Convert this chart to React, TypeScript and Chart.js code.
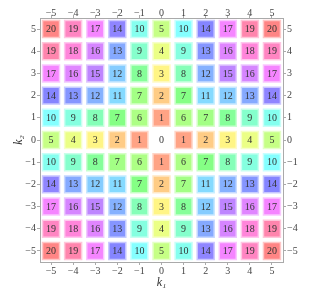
import React, { useEffect, useRef } from "react";
import { Chart, registerables } from "chart.js";

Chart.register(...registerables);

const K1 = [-5, -4, -3, -2, -1, 0, 1, 2, 3, 4, 5];
const K2 = [5, 4, 3, 2, 1, 0, -1, -2, -3, -4, -5];
const TICKS = [-5, -4, -3, -2, -1, 0, 1, 2, 3, 4, 5];
const TICK_LABELS = ["\u22125", "\u22124", "\u22123", "\u22122", "\u22121", "0", "1", "2", "3", "4", "5"];

// values, rows k2 = 5 .. -5, columns k1 = -5 .. 5
const VALUES: number[][] = [
  [20, 19, 17, 14, 10, 5, 10, 14, 17, 19, 20],
  [19, 18, 16, 13, 9, 4, 9, 13, 16, 18, 19],
  [17, 16, 15, 12, 8, 3, 8, 12, 15, 16, 17],
  [14, 13, 12, 11, 7, 2, 7, 11, 12, 13, 14],
  [10, 9, 8, 7, 6, 1, 6, 7, 8, 9, 10],
  [5, 4, 3, 2, 1, 0, 1, 2, 3, 4, 5],
  [10, 9, 8, 7, 6, 1, 6, 7, 8, 9, 10],
  [14, 13, 12, 11, 7, 2, 7, 11, 12, 13, 14],
  [17, 16, 15, 12, 8, 3, 8, 12, 15, 16, 17],
  [19, 18, 16, 13, 9, 4, 9, 13, 16, 18, 19],
  [20, 19, 17, 14, 10, 5, 10, 14, 17, 19, 20],
];

// hue table for quadrant k1 = 1..5 (columns), k2 = 0..5 (rows); other cells by 90° rotation
const QUAD_HUES: number[][] = [
  [15, 35, 55, 70, 88],
  [100, 105, 130, 155, 172],
  [120, 198, 205, 222, 245],
  [145, 218, 268, 280, 295],
  [165, 232, 285, 318, 330],
  [180, 240, 295, 340, 0],
];

function hueFor(k1: number, k2: number): number | null {
  let a = k1, b = k2;
  for (let i = 0; i < 4; i++) {
    if (a >= 1 && b >= 0) return QUAD_HUES[b][a - 1];
    const t = a; a = b; b = -t;
  }
  return null;
}

const SERIF = "'Liberation Serif', 'Times New Roman', serif";

export default function App() {
  const ref = useRef<HTMLCanvasElement>(null);
  useEffect(() => {
    const pts: { x: number; y: number }[] = [];
    const fills: string[] = [];
    const edges: string[] = [];
    K2.forEach((k2) => {
      K1.forEach((k1) => {
        const h = hueFor(k1, k2);
        if (h === null) return;
        pts.push({ x: k1, y: k2 });
        fills.push(`hsl(${h}, 100%, 76%)`);
        edges.push(`hsl(${h}, 100%, 89%)`);
      });
    });

    const labelPlugin = {
      id: "cellLabels",
      afterDatasetsDraw(chart: any) {
        const ctx = chart.ctx;
        const xs = chart.scales.x;
        const ys = chart.scales.y;
        ctx.save();
        ctx.font = `10px ${SERIF}`;
        ctx.fillStyle = "#333";
        ctx.textAlign = "center";
        ctx.textBaseline = "middle";
        K2.forEach((k2, r) => {
          K1.forEach((k1, c) => {
            ctx.fillText(String(VALUES[r][c]), xs.getPixelForValue(k1), ys.getPixelForValue(k2) + 0.5);
          });
        });
        ctx.restore();
      },
    };

    const setTicks = (scale: any) => {
      scale.ticks = TICKS.map((v) => ({ value: v }));
    };
    const tickCb = (v: any) => {
      const i = TICKS.indexOf(Number(v));
      return i >= 0 ? TICK_LABELS[i] : "";
    };
    const frame = { display: true, color: "#aaa", width: 1 };
    const grid = { display: true, drawOnChartArea: false, drawTicks: true, tickLength: 3, color: "#aaa" };
    const tickFont = { family: SERIF, size: 10 };

    const chart = new Chart(ref.current!, {
      type: "scatter",
      data: {
        datasets: [
          {
            data: pts,
            pointStyle: "rect",
            pointRadius: 12,
            pointHoverRadius: 12,
            backgroundColor: fills,
            borderColor: edges,
            borderWidth: 1.5,
          },
        ],
      },
      options: {
        animation: false,
        responsive: false,
        layout: { padding: 0 },
        plugins: { legend: { display: false }, tooltip: { enabled: false } },
        scales: {
          x: {
            type: "linear", position: "bottom", min: -5.5, max: 5.5,
            afterBuildTicks: setTicks,
            afterFit: (s: any) => { s.height = 36; },
            border: frame, grid,
            ticks: { callback: tickCb, font: tickFont, color: "#444", padding: 0, maxRotation: 0 },
            title: { display: true, text: "k\u2081", font: { family: SERIF, size: 12, style: "italic" }, color: "#333", padding: { top: 8, bottom: 8 } },
          },
          x2: {
            type: "linear", position: "top", min: -5.5, max: 5.5,
            afterBuildTicks: setTicks,
            afterFit: (s: any) => { s.height = 18; },
            border: frame, grid,
            ticks: { callback: tickCb, font: tickFont, color: "#444", padding: -4, maxRotation: 0 },
          },
          y: {
            type: "linear", position: "left", min: -5.5, max: 5.5,
            afterBuildTicks: setTicks,
            afterFit: (s: any) => { s.width = 40; },
            border: frame, grid,
            ticks: { callback: tickCb, font: tickFont, color: "#444", padding: 1 },
            title: { display: true, text: "k\u2082", font: { family: SERIF, size: 12, style: "italic" }, color: "#333", padding: { top: 12, bottom: 12 } },
          },
          y2: {
            type: "linear", position: "right", min: -5.5, max: 5.5,
            afterBuildTicks: setTicks,
            afterFit: (s: any) => { s.width = 26; },
            border: frame, grid,
            ticks: { callback: tickCb, font: tickFont, color: "#444", padding: 1 },
          },
        },
      },
      plugins: [labelPlugin],
    } as any);
    return () => chart.destroy();
  }, []);

  return (
    <div style={{ position: "fixed", left: 0, top: 0, width: 309, height: 298, background: "#fff" }}>
      <canvas ref={ref} width={309} height={298} style={{ display: "block", width: 309, height: 298 }} />
    </div>
  );
}
